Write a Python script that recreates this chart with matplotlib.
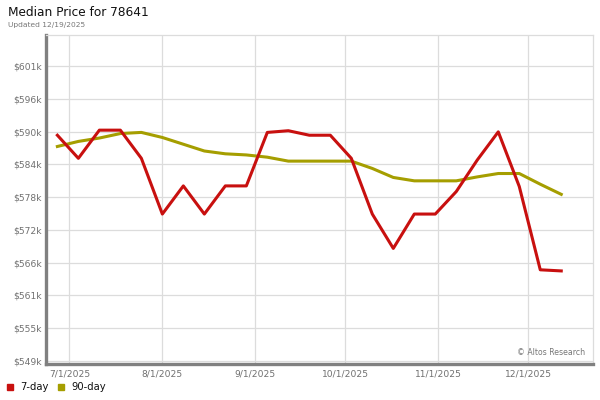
import matplotlib
matplotlib.use("Agg")
import matplotlib.pyplot as plt
import numpy as np
import pandas as pd

dates = pd.date_range("2025-06-27", periods=25, freq="7D")
seven_day = [589.1, 585.0, 590.0, 590.0, 585.0, 575.1, 580.1, 575.1, 580.1, 580.1,
             589.6, 589.9, 589.1, 589.1, 585.0, 575.1, 569.0, 575.1, 575.1, 579.1,
             584.7, 589.7, 580.0, 565.2, 565.0]
ninety_day = [587.1, 588.0, 588.6, 589.4, 589.6, 588.7, 587.5, 586.3, 585.8, 585.6,
              585.2, 584.5, 584.5, 584.5, 584.5, 583.2, 581.6, 581.0, 581.0, 581.0,
              581.7, 582.3, 582.3, 580.4, 578.6]
ytick_labels = ["$549k", "$555k", "$561k", "$566k", "$572k", "$578k", "$584k",
                "$590k", "$596k", "$601k"]
xtick_dates = ["2025-07-01", "2025-08-01", "2025-09-01", "2025-10-01", "2025-11-01", "2025-12-01"]
xtick_labels = ["7/1/2025", "8/1/2025", "9/1/2025", "10/1/2025", "11/1/2025", "12/1/2025"]

RED = "#C8100F"
OLIVE = "#A59E00"

fig = plt.figure(figsize=(6, 4), dpi=100)
ax = fig.add_axes([46/600, 36/400, (593-46)/600, (364-35)/400])

ax.plot(dates, seven_day, color=RED, lw=2.2, zorder=3)
ax.plot(dates, ninety_day, color=OLIVE, lw=2.2, zorder=2)

yt = np.linspace(549.0, 601.4, 10)
ax.set_yticks(yt)
ax.set_yticklabels(ytick_labels)
ax.set_ylim(548.47, 606.9)

xt = pd.to_datetime(xtick_dates)
ax.set_xticks(xt)
ax.set_xticklabels(xtick_labels)
ax.set_xlim(pd.Timestamp("2025-06-23 05:00"), pd.Timestamp("2025-12-22 14:00"))

ax.grid(True, color="#dcdcdc", lw=0.9)
ax.set_axisbelow(True)
ax.tick_params(length=0, labelsize=6.6, colors="#707070", pad=4)
ax.tick_params(axis="y", pad=3)

for s in ["top", "right"]:
    ax.spines[s].set_color("#dcdcdc")
    ax.spines[s].set_linewidth(0.9)
for s in ["left", "bottom"]:
    ax.spines[s].set_color("#808080")
    ax.spines[s].set_linewidth(2.4)

ax.text(0.985, 0.02, "© Altos Research", transform=ax.transAxes, ha="right",
        va="bottom", fontsize=5.6, color="#777777")

fig.text(8/600, 1 - 12/400, "Median Price for 78641", fontsize=8.7, color="#111111",
         ha="left", va="center")
fig.text(8/600, 1 - 25/400, "Updated 12/19/2025", fontsize=5.4, color="#777777",
         ha="left", va="center")

# legend
fig.patches.append(plt.Rectangle((7/600, 1 - 390/400), 6/600, 6/400, color=RED,
                                 transform=fig.transFigure, figure=fig))
fig.text(20/600, 1 - 386.5/400, "7-day", fontsize=7.2, color="#111111", ha="left", va="center")
fig.patches.append(plt.Rectangle((58/600, 1 - 390/400), 6/600, 6/400, color=OLIVE,
                                 transform=fig.transFigure, figure=fig))
fig.text(71/600, 1 - 386.5/400, "90-day", fontsize=7.2, color="#111111", ha="left", va="center")

fig.savefig("out.png", dpi=100)
